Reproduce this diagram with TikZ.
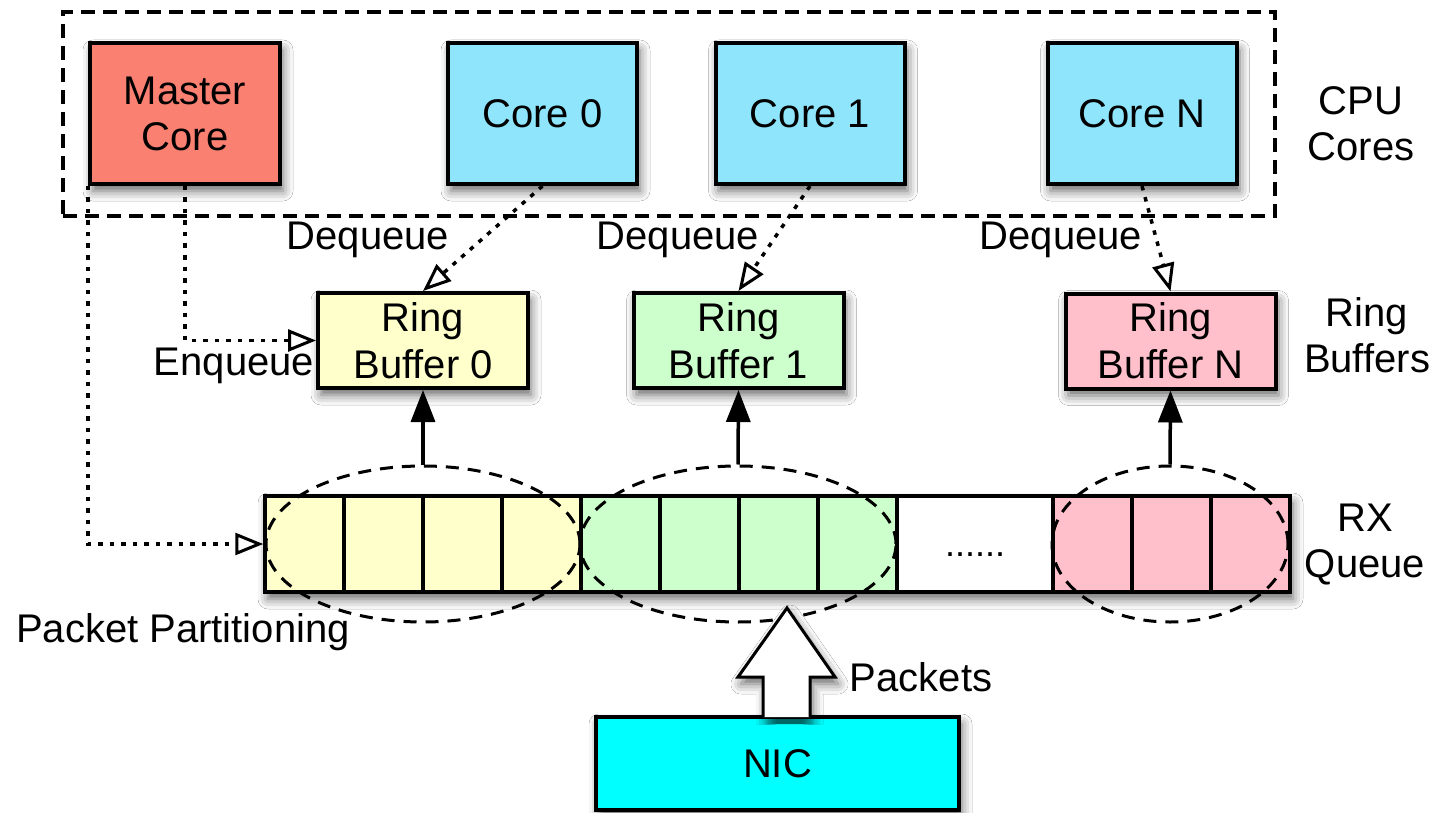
\documentclass[tikz,border=0pt]{standalone}
\usepackage{fontspec}
\setmainfont{Liberation Sans}
\usetikzlibrary{arrows.meta,shapes.geometric,shadows.blur}
\definecolor{mastercol}{RGB}{250,128,114}
\definecolor{corecol}{RGB}{142,229,252}
\definecolor{yelcol}{RGB}{255,255,204}
\definecolor{grncol}{RGB}{204,255,204}
\definecolor{pnkcol}{RGB}{255,192,203}
\definecolor{niccol}{RGB}{0,255,255}
\begin{document}
\begin{tikzpicture}[x=1pt,y=-1pt,
  txt/.style={font=\fontsize{40}{46}\selectfont, align=center, inner sep=0pt},
  shadowed/.style={blur shadow={shadow xshift=3pt, shadow yshift=-7pt, shadow blur radius=10pt, shadow opacity=60}},
  blk/.style={draw, line width=4pt, shadowed, txt},
  corebox/.style={blk, fill=corecol, minimum width=189pt, minimum height=141pt},
  ringbox/.style={blk, font=\fontsize{40}{47}\selectfont, minimum width=210pt, minimum height=95pt},
  cell/.style={draw, line width=3.5pt, minimum width=79pt, minimum height=96pt, inner sep=0pt},
  part/.style={ellipse, draw, line width=3pt, dash pattern=on 13pt off 9pt, minimum height=156pt, inner sep=0pt},
  dotline/.style={line width=3.5pt, dash pattern=on 4.5pt off 7pt,
    -{Triangle[open, length=28pt, width=22pt, line width=3pt]}},
  solidarrow/.style={line width=3.5pt, -{Triangle[length=32pt, width=24pt]}},
  lbl/.style={txt}
]
\useasboundingbox (0,0) rectangle (1435,813);
\fill[white] (0,0) rectangle (1435,813);

% CPU cores group
\node[draw, line width=3.5pt, dash pattern=on 14pt off 8pt, minimum width=1212pt, minimum height=204pt, inner sep=0pt] (cpu) at (669,114) {};
\node[blk, fill=mastercol, minimum width=190pt, minimum height=141pt] (mc) at (185,113.5) {Master\\Core};
\node[corebox] (c0) at (542.5,113.5) {Core 0};
\node[corebox] (c1) at (810,113.5) {Core 1};
\node[corebox] (cN) at (1142,113.5) {Core N};
\node[lbl] (cpulbl) at (1361,124) {CPU\\Cores};

% Ring buffers
\node[ringbox, fill=yelcol] (rb0) at (423,340.5) {Ring\\Buffer 0};
\node[ringbox, fill=grncol] (rb1) at (738.5,340.5) {Ring\\Buffer 1};
\node[ringbox, fill=pnkcol] (rbN) at (1170.5,341) {Ring\\Buffer N};
\node[lbl] (rblbl) at (1367,335) {Ring\\Buffers};

% RX queue
\node[draw, line width=3.5pt, fill=white, shadowed, minimum width=1025pt, minimum height=96pt, inner sep=0pt] (rxq) at (777.5,544) {};
\foreach \i in {0,...,3} \node[cell, fill=yelcol] (y\i) at ({304.5+79*\i},544) {};
\foreach \i in {0,...,3} \node[cell, fill=grncol] (g\i) at ({620.5+79*\i},544) {};
\node[cell, fill=white, minimum width=156pt] (wq) at (975,544) {};
\node[inner sep=0pt, font=\fontsize{36}{40}\selectfont] (dots) at (975,555) {......};
\foreach \i in {0,...,2} \node[cell, fill=pnkcol] (p\i) at ({1092.5+79*\i},544) {};
\node[lbl] (rxlbl) at (1365,545) {RX\\Queue};

% partitions
\node[part, minimum width=314pt] (ey) at (423,544) {};
\node[part, minimum width=316pt] (eg) at (738,544) {};
\node[part, minimum width=236pt] (ep) at (1170,544) {};
\node[lbl] (pplbl) at (183,632) {Packet Partitioning};

\draw[solidarrow] (ey.north) -- (rb0.south);
\draw[solidarrow] (eg.north) -- (rb1.south);
\draw[solidarrow] (ep.north) -- (rbN.south);

% dequeue / enqueue
\draw[dotline] (c0.south) -- (rb0.north);
\draw[dotline] (c1.south) -- (rb1.north);
\draw[dotline] (cN.south) -- (rbN.north);
\node[lbl] (dq0) at (368,240) {Dequeue};
\node[lbl] (dq1) at (678,240) {Dequeue};
\node[lbl] (dqN) at (1061,240) {Dequeue};
\draw[dotline] (mc.south) |- (rb0.west);
\node[lbl] (enq) at (234,366) {Enqueue};
\draw[dotline] (mc.south west) |- (rxq.west);

% NIC and packets
\node[blk, fill=niccol, minimum width=363pt, minimum height=93pt] (nic) at (777.5,763.5) {NIC};
\draw[line width=3pt, fill=white, line join=miter, shadowed]
  (763,717) -- (763,677) -- (738,677) -- (787,608) -- (835,677) -- (810,677) -- (810,717);
\node[lbl] (pkt) at (921,677) {Packets};
\end{tikzpicture}
\end{document}
